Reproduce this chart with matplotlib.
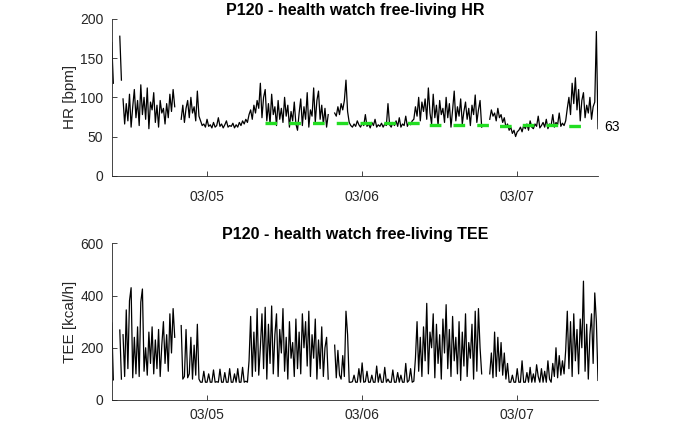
import numpy as np
import matplotlib
matplotlib.use("Agg")
import matplotlib.pyplot as plt
import matplotlib.dates as mdates

plt.rcParams["font.family"] = ["Liberation Sans", "DejaVu Sans"]
plt.rcParams["lines.scale_dashes"] = False

# Recording starts 03/04, one sample every 15 min, segments separated by gaps
day0 = np.datetime64("2024-03-04T00:00")
step_min = 15
seg_start_h = [9.25, 10.5, 11.0, 20.0, 43.75, 67.75]

# Heart rate [bpm]
hr_1 = [170, 118]
hr_2 = [178, 122]
hr_3 = [98, 66, 92, 70, 104, 62, 88, 110, 74, 96, 64, 116, 78, 100, 72, 112, 60,
        94, 84, 106, 68, 90, 62, 96, 80, 86, 66, 92, 74, 104, 82, 110, 88]
hr_4 = [72, 90, 68, 86, 96, 74, 100, 80, 88, 70, 108, 76,
        70, 64, 66, 62, 72, 63, 65, 61, 68, 62, 64, 74, 63, 66, 61, 65, 70, 62,
        64, 63, 67, 61, 65, 62, 68, 64, 70, 66, 72, 68,
        78, 84, 72, 90, 80, 96, 86, 118, 74, 100, 110, 70, 92, 66, 104, 78, 88,
        64, 96, 72, 86, 68, 100, 76, 90, 62, 82, 70, 94, 66, 58, 80, 98, 64, 88,
        72, 106, 62, 84, 76, 112, 68, 96, 108, 72, 90, 66, 86, 62, 78]
hr_5 = [80, 76, 88, 78, 92, 84, 96, 122, 82,
        68, 64, 62, 66, 63, 70, 65, 62, 67, 64, 78, 63, 66, 61, 68, 64, 72, 62,
        65, 63, 67, 62, 66, 64, 92, 65, 62, 68, 64, 70, 63, 74, 62, 66, 64, 76,
        63, 68, 65, 70, 72,
        88, 76, 100, 70, 94, 82, 98, 72, 112, 80, 66, 104, 74, 90, 64, 96, 78,
        86, 68, 100, 74, 92, 62, 84, 108, 70, 88, 76, 98, 66, 82, 94, 72, 86, 64,
        90, 78, 103, 68, 84, 96, 62]
hr_6 = [72, 84, 76, 80, 70, 86, 74, 78,
        68, 74, 62, 66, 58, 62, 54, 58, 50, 56,
        58, 62, 56, 64, 60, 66, 58, 70, 62, 60, 66, 63, 76, 61, 64, 68, 62, 72,
        60, 66, 64, 78, 62, 68, 65, 80, 63, 67, 64, 70,
        86, 100, 78, 118, 92, 125, 84, 110, 70, 96, 106, 74, 90, 80, 100, 72, 88,
        94, 184, 60]

# Total energy expenditure [kcal/h]
tee_1 = [295, 77]
tee_2 = [268, 80]
tee_3 = [250, 90, 345, 120, 380, 430, 85, 240, 100, 280, 90, 375, 425, 110, 200,
         95, 260, 140, 280, 100, 230, 120, 270, 90, 210, 300, 140, 250, 110, 330,
         180, 350, 240]
tee_4 = [285, 80, 90, 270, 85, 100, 240, 80, 210, 95, 290, 80,
         68, 68, 110, 68, 68, 100, 68, 68, 115, 68, 70, 68, 118, 68, 68, 105, 68,
         68, 120, 68, 68, 100, 68, 120, 68, 68, 125, 68, 72, 68,
         150, 320, 90, 260, 110, 350, 95, 200, 330, 120, 355, 80, 290, 140, 360,
         100, 250, 330, 90, 270, 180, 350, 110, 240, 80, 300, 160, 220, 90, 310,
         120, 260, 100, 330, 200, 300, 130, 340, 90, 250, 160, 310, 80, 230, 120,
         280, 90, 200, 240, 80]
tee_5 = [210, 85, 190, 95, 80, 170, 90, 340, 250,
         68, 68, 70, 95, 68, 68, 120, 68, 142, 68, 70, 110, 68, 68, 95, 68, 68,
         130, 68, 100, 68, 68, 125, 68, 80, 68, 68, 115, 68, 68, 105, 68, 95, 68,
         68, 140, 68, 75, 120, 68, 72,
         160, 300, 110, 240, 90, 280, 150, 370, 100, 260, 200, 330, 85, 290, 140,
         250, 80, 310, 180, 365, 120, 270, 90, 320, 150, 240, 100, 300, 75, 260,
         130, 330, 90, 220, 160, 290, 80, 340, 110, 350, 200, 100]
tee_6 = [100, 180, 85, 260, 90, 240, 110, 220,
         95, 180, 80, 140, 68, 68, 95, 68, 68, 120,
         68, 68, 150, 68, 68, 105, 68, 125, 68, 100, 68, 135, 90, 68, 120, 68,
         110, 68, 150, 80, 68, 140, 90, 200, 85, 170, 95, 150, 100, 190,
         340, 120, 300, 90, 330, 150, 270, 100, 310, 200, 455, 110, 290, 80, 250,
         330, 140, 410, 300, 75]

# Resting HR reference (green dashed)
rest_start_h = [32.9, 57.6, 68.7, 72.3, 79.7, 82.6]
rest_hr = [67, 65, 64, 65, 63, 63]
rest_label = "63"

hr_segs = [hr_1, hr_2, hr_3, hr_4, hr_5, hr_6]
tee_segs = [tee_1, tee_2, tee_3, tee_4, tee_5, tee_6]


def to_time(hours):
    mins = np.round(np.asarray(hours, float) * 60).astype(int)
    return day0 + mins.astype("timedelta64[m]")


def build(segs):
    ts, vs = [], []
    for h0, vals in zip(seg_start_h, segs):
        t = to_time(h0 + step_min / 60 * np.arange(len(vals)))
        ts.append(t)
        vs.append(np.array(vals, float))
        ts.append(np.array([t[-1] + np.timedelta64(1, "m")]))
        vs.append(np.array([np.nan]))
    return np.concatenate(ts), np.concatenate(vs)


hr_t, hr_v = build(hr_segs)
tee_t, tee_v = build(tee_segs)

axc = "#262626"
fig = plt.figure(figsize=(6.8, 4.23), dpi=100)
ax1 = fig.add_axes([0.1643, 0.5846, 0.7151, 0.3705])
ax2 = fig.add_axes([0.1643, 0.0544, 0.7151, 0.3704])

ax1.plot(hr_t, hr_v, color="black", lw=0.9)
ax1.step(to_time(rest_start_h), rest_hr, where="post", color="#22dd22",
         lw=2.4, linestyle=(0, (8.4, 8.7)))
ax1.text(1.012, rest_hr[-1] - 1, rest_label, transform=ax1.get_yaxis_transform(),
         ha="left", va="center", fontsize=10, color="black")
ax1.set_ylim(0, 200)
ax1.set_yticks([0, 50, 100, 150, 200])
ax1.set_ylabel("HR [bpm]", fontsize=11, labelpad=2, color=axc)
ax1.set_title("P120 - health watch free-living HR", fontsize=11.5,
              fontweight="bold", pad=3)

ax2.plot(tee_t, tee_v, color="black", lw=0.9)
ax2.set_ylim(0, 600)
ax2.set_yticks([0, 200, 400, 600])
ax2.set_ylabel("TEE [kcal/h]", fontsize=11, labelpad=2, color=axc)
ax2.set_title("P120 - health watch free-living TEE", fontsize=11.5,
              fontweight="bold", pad=3)

for ax in (ax1, ax2):
    ax.set_xlim(to_time(9.25), to_time(84.5))
    ax.xaxis.set_major_locator(mdates.DayLocator())
    ax.xaxis.set_major_formatter(mdates.DateFormatter("%m/%d"))
    ax.spines["top"].set_visible(False)
    ax.spines["right"].set_visible(False)
    for s in ("left", "bottom"):
        ax.spines[s].set_color(axc)
        ax.spines[s].set_linewidth(0.6)
    ax.tick_params(axis="both", direction="in", length=3.5, width=0.6,
                   colors=axc, labelsize=10)
    ax.tick_params(axis="y", pad=6)

ax1.tick_params(axis="x", pad=10)
ax2.tick_params(axis="x", pad=6)

fig.savefig("out.png", dpi=100)
